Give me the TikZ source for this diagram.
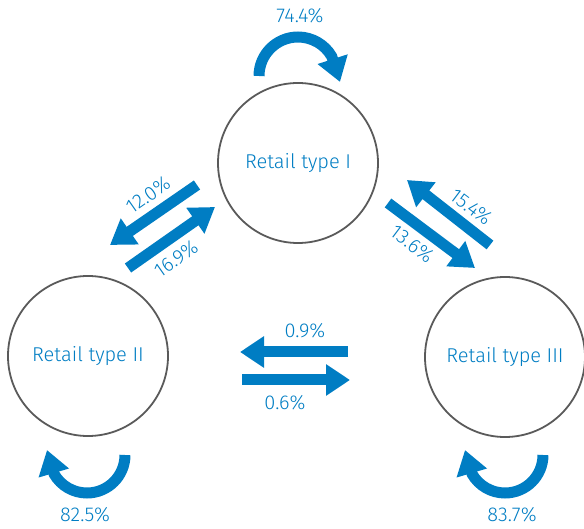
\documentclass[tikz,border=0pt]{standalone}
\usepackage{fontspec}
\setmainfont{Fira Sans Light}
\usetikzlibrary{arrows.meta,positioning}
\definecolor{flow}{RGB}{0,125,195}
\definecolor{ring}{RGB}{90,90,90}
\tikzstyle{state} = [circle, draw=ring, line width=1.8pt, minimum size=160pt,
    inner sep=0pt, text=flow, font=\fontsize{20}{24}\selectfont]
\tikzstyle{line} = [draw=flow, line width=11pt, -{Triangle[width=30pt,length=24pt]}]
\tikzstyle{pct} = [text=flow, font=\fontsize{20}{24}\selectfont, inner sep=0pt]

\begin{document}
\begin{tikzpicture}[x=1pt, y=1pt]
    \useasboundingbox (0,0) rectangle (584,528);
    % Place nodes
    \node [state] (typeI) at (298,365) {Retail type I};
    \node [state] (typeII) at (88,172) {Retail type II};
    \node [state] (typeIII) at (505,171) {Retail type III};
    % Arrow ends
    \coordinate (IaII) at (197,343);  \coordinate (IbII) at (110,283);
    \coordinate (IIaI) at (128,260);  \coordinate (IIbI) at (215,321);
    \coordinate (IIIaI) at (490,283); \coordinate (IIIbI) at (407,348);
    \coordinate (IaIII) at (388,325); \coordinate (IbIII) at (475,260);
    \coordinate (IIIaII) at (348,176); \coordinate (IIIbII) at (240,176);
    \coordinate (IIaIII) at (242,148); \coordinate (IIbIII) at (350,148);
    \coordinate (loopI) at (259,452);   \coordinate (tipI) at (340,446);
    \coordinate (loopII) at (125,73);   \coordinate (tipII) at (47,78);
    \coordinate (loopIII) at (543,73);  \coordinate (tipIII) at (465,78);
    % Draw edges
    \path [line] (IaII) -- (IbII);
    \path [line] (IIaI) -- (IIbI);
    \path [line] (IIIaI) -- (IIIbI);
    \path [line] (IaIII) -- (IbIII);
    \path [line] (IIIaII) -- (IIIbII);
    \path [line] (IIaIII) -- (IIbIII);
    \path [line] (loopI) arc[start angle=180, end angle=30, radius=39] -- (tipI);
    \path [line] (loopII) arc[start angle=0, end angle=-150, radius=38] -- (tipII);
    \path [line] (loopIII) arc[start angle=0, end angle=-150, radius=38] -- (tipIII);
    % Labels
    \node [pct, rotate=35] (pIII) at (148,333) {12.0\%};
    \node [pct, rotate=35] (pIII2) at (176,269) {16.9\%};
    \node [pct, rotate=-37] (pIIII) at (471,321) {15.4\%};
    \node [pct, rotate=-37] (pIIII2) at (412,284) {13.6\%};
    \node [pct] (pIIIII) at (305,197) {0.9\%};
    \node [pct] (pIIIII2) at (285,125) {0.6\%};
    \node [pct] (pI) at (300,512) {74.4\%};
    \node [pct] (pII) at (85,13) {82.5\%};
    \node [pct] (pIII3) at (512,13) {83.7\%};
\end{tikzpicture}
\end{document}
